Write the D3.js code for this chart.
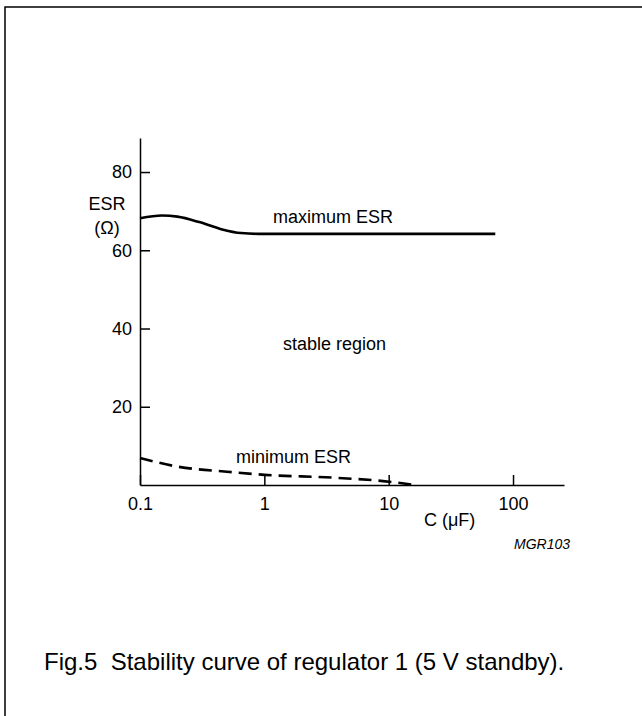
<!DOCTYPE html>
<html>
<head>
<meta charset="utf-8">
<script src="https://cdn.jsdelivr.net/npm/d3@7"></script>
<style>
  body { margin: 0; background: #fff; }
  svg text { font-family: "Liberation Sans", Arial, sans-serif; fill: #000; white-space: pre; }
</style>
</head>
<body>
<div id="my_dataviz"></div>
<script>
// capacitance (uF) / ESR (ohm)
var maxC   = [0.1, 0.15, 0.2, 0.3, 0.45, 0.65, 0.9, 72];
var maxESR = [68.2, 68.9, 68.6, 67.2, 65.4, 64.4, 64.2, 64.2];

var minC   = [0.1, 0.2, 0.5, 1, 3.5, 9, 16.5];
var minESR = [6.9, 4.7, 3.4, 2.6, 1.9, 1.0, 0];

var xTicks = [0.1, 1, 10, 100];
var xTickLabels = ["0.1", "1", "10", "100"];
var yTicks = [20, 40, 60, 80];

// page size
var W = 642, H = 716;

var svg = d3.select("#my_dataviz")
  .append("svg")
  .attr("width", W)
  .attr("height", H);

// frame round the figure (right/bottom edges run off the page)
svg.append("rect")
  .attr("x", 5).attr("y", 7)
  .attr("width", 700).attr("height", 800)
  .attr("fill", "none")
  .attr("stroke", "#000")
  .attr("stroke-width", 1.5);

// scales
var x = d3.scaleLog()
  .domain([0.1, 257])
  .range([140, 564]);

var y = d3.scaleLinear()
  .domain([0, 88.7])
  .range([485, 138]);

// Y axis, ticks pointing inwards
var yAxis = svg.append("g")
  .attr("transform", "translate(140,0)")
  .call(d3.axisLeft(y).tickValues(yTicks).tickSizeInner(-10).tickSizeOuter(0).tickPadding(8));

// X axis, ticks pointing up
var xAxis = svg.append("g")
  .attr("transform", "translate(0,485)")
  .call(d3.axisBottom(x)
    .tickValues(xTicks)
    .tickFormat(function(d, i) { return xTickLabels[i]; })
    .tickSizeInner(-10).tickSizeOuter(0).tickPadding(12));

[xAxis, yAxis].forEach(function(a) {
  a.attr("font-family", null).attr("font-size", null);
  a.selectAll("text").style("font-size", "18px");
  a.selectAll("line, path").attr("stroke", "#000").attr("stroke-width", 1.5);
});

var line = d3.line()
  .x(function(d) { return x(d[0]); })
  .y(function(d) { return y(d[1]); })
  .curve(d3.curveMonotoneX);

// maximum ESR
svg.append("path")
  .datum(maxC.map(function(c, i) { return [c, maxESR[i]]; }))
  .attr("d", line)
  .attr("fill", "none")
  .attr("stroke", "#000")
  .attr("stroke-width", 2.6);

// minimum ESR (dashed)
svg.append("path")
  .datum(minC.map(function(c, i) { return [c, minESR[i]]; }))
  .attr("d", line)
  .attr("fill", "none")
  .attr("stroke", "#000")
  .attr("stroke-width", 2.6)
  .attr("stroke-dasharray", "13,7");

// labels
function label(txt, px, py, size, anchor, italic) {
  svg.append("text")
    .attr("x", px).attr("y", py)
    .attr("text-anchor", anchor || "start")
    .style("font-size", size + "px")
    .style("font-style", italic ? "italic" : "normal")
    .text(txt);
}

label("ESR", 107, 210, 18, "middle");
label("(\u03A9)", 107, 234, 18, "middle");
label("maximum ESR", 273, 223, 18);
label("stable region", 283, 350, 18);
label("minimum ESR", 236, 463, 18);
label("C (\u03BCF)", 424, 526, 18);
label("MGR103", 514, 549, 14, "start", true);
label("Fig.5  Stability curve of regulator 1 (5 V standby).", 44, 670, 24);
</script>
</body>
</html>
